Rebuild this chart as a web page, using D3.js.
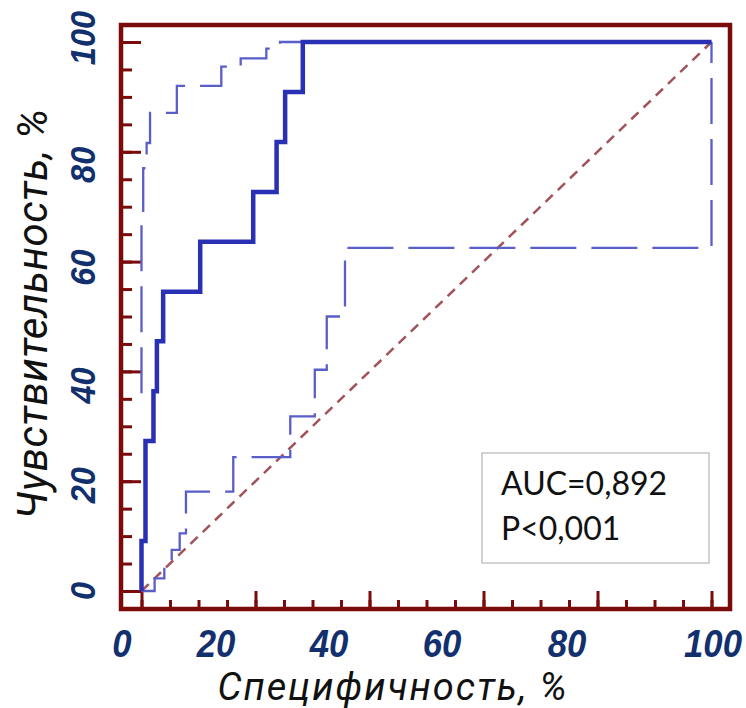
<!DOCTYPE html>
<html>
<head>
<meta charset="utf-8">
<script src="https://cdn.jsdelivr.net/npm/d3@7"></script>
<style>
  html, body { margin: 0; padding: 0; background: #ffffff; }
  svg { display: block; }
</style>
</head>
<body>
<svg id="chart" width="746" height="708"></svg>
<script>
// ---------------- data ----------------
// ROC curve (step corners, x = specificity axis value, y = sensitivity)
const rocX   = [0, 0.7, 2.1, 2.7, 3.8, 10.3, 19.6, 23.7, 25.2, 28.3, 100];
const rocY   = [0, 9.1, 27.3, 36.4, 45.5, 54.5, 63.6, 72.7, 81.8, 90.9, 100];
// upper confidence bound (dashed)
const upperX = [0, 0.3, 0.9, 1.5, 6.2, 14.0, 17.4, 21.9, 24.3, 100];
const upperY = [36, 67.3, 77.0, 81.6, 87.1, 92.0, 95.5, 97.0, 98.8, 100];
// lower confidence bound (dashed)
const lowerX = [0, 2.3, 4.0, 5.3, 6.7, 7.8, 16.1, 26.1, 30.4, 32.5, 35.7, 100, 100];
const lowerY = [0, 0, 2.3, 5.0, 7.5, 10.5, 18.1, 24.4, 31.8, 40.3, 50.0, 62.5, 100];
// reference diagonal
const diagX = [0, 100];
const diagY = [0, 100];
// ticks
const majorTicks = [0, 20, 40, 60, 80, 100];
const minorTicks = [0, 5, 10, 15, 20, 25, 30, 35, 40, 45, 50, 55, 60, 65, 70, 75, 80, 85, 90, 95, 100];
const tickLabels = ["0", "20", "40", "60", "80", "100"];
const xTitle = "Специфичность, %";
const yTitle = "Чувствительность,  %";
const statLines = ["AUC=0,892", "P<0,001"];

// ---------------- layout ----------------
const frame = {left: 121, top: 25, right: 730, bottom: 609};
const xLabelShift = [-19.5, -39.5, -40.5, -41.5, -30.5, 1.5];
const yLabelShift = [0, 4, 14, 6, 13, -4];

const svg = d3.select("#chart");
const x = d3.scaleLinear().domain([0, 100]).range([141.5, 711.5]);
const y = d3.scaleLinear().domain([0, 100]).range([591, 42]);

const frameColor = "#7b0b0b";
const labelColor = "#12306e";

// frame
svg.append("rect")
  .attr("x", frame.left).attr("y", frame.top)
  .attr("width", frame.right - frame.left).attr("height", frame.bottom - frame.top)
  .attr("fill", "none").attr("stroke", frameColor).attr("stroke-width", 4.5);

// ticks via axes
function styleAxis(g) {
  g.select(".domain").remove();
  g.selectAll(".tick line").attr("stroke", frameColor).attr("stroke-width", 3);
  g.selectAll(".tick text").remove();
}
svg.append("g").attr("transform", `translate(${frame.left},0)`)
  .call(d3.axisRight(y).tickValues(minorTicks).tickSize(11).tickFormat(""))
  .call(styleAxis);
svg.append("g").attr("transform", `translate(${frame.left},0)`)
  .call(d3.axisRight(y).tickValues(majorTicks).tickSize(20).tickFormat(""))
  .call(styleAxis);
svg.append("g").attr("transform", `translate(0,${frame.bottom})`)
  .call(d3.axisTop(x).tickValues(minorTicks).tickSize(9).tickFormat(""))
  .call(styleAxis);
svg.append("g").attr("transform", `translate(0,${frame.bottom})`)
  .call(d3.axisTop(x).tickValues(majorTicks).tickSize(18).tickFormat(""))
  .call(styleAxis);

// tick labels
const tickFont = "'Liberation Sans', Arial, sans-serif";
svg.append("g").selectAll("text").data(majorTicks).join("text")
  .attr("transform", (d, i) => `translate(${x(d) + xLabelShift[i]},657) scale(0.89,1)`)
  .attr("text-anchor", "middle")
  .attr("font-family", tickFont).attr("font-size", 39)
  .attr("font-weight", "bold").attr("font-style", "italic")
  .attr("fill", labelColor)
  .text((d, i) => tickLabels[i]);

svg.append("g").selectAll("text").data(majorTicks).join("text")
  .attr("transform", (d, i) => `translate(95,${y(d) + yLabelShift[i]}) rotate(-90) scale(0.93,1)`)
  .attr("text-anchor", "middle")
  .attr("font-family", tickFont).attr("font-size", 35)
  .attr("font-weight", "bold").attr("font-style", "italic")
  .attr("fill", labelColor)
  .text((d, i) => tickLabels[i]);

// axis titles
const titleFont = "Roboto, 'Noto Sans', Arial, sans-serif";
svg.append("text")
  .attr("x", 393).attr("y", 700)
  .attr("text-anchor", "middle")
  .attr("font-family", titleFont).attr("font-size", 38)
  .attr("letter-spacing", 2)
  .attr("font-style", "italic").attr("fill", "#111")
  .text(xTitle);
svg.append("text")
  .attr("transform", "translate(47,314) rotate(-90)")
  .attr("text-anchor", "middle")
  .attr("font-family", titleFont).attr("font-size", 42)
  .attr("letter-spacing", 0.5)
  .attr("font-style", "italic").attr("fill", "#111")
  .text(yTitle);

// curves
const stepLine = d3.line().x(d => x(d[0])).y(d => y(d[1])).curve(d3.curveStepBefore);
const straight = d3.line().x(d => x(d[0])).y(d => y(d[1]));

svg.append("path")
  .datum(diagX.map((v, i) => [v, diagY[i]]))
  .attr("d", straight)
  .attr("fill", "none").attr("stroke", "#a2525a").attr("stroke-width", 2.5)
  .attr("stroke-dasharray", "10,7");

svg.append("path")
  .datum(lowerX.map((v, i) => [v, lowerY[i]]))
  .attr("d", stepLine)
  .attr("fill", "none").attr("stroke", "#5a5ec8").attr("stroke-width", 2.3)
  .attr("stroke-dasharray", "46,15");

svg.append("path")
  .datum(upperX.map((v, i) => [v, upperY[i]]))
  .attr("d", stepLine)
  .attr("fill", "none").attr("stroke", "#5a5ec8").attr("stroke-width", 2.3)
  .attr("stroke-dasharray", "46,15");

svg.append("path")
  .datum(rocX.map((v, i) => [v, rocY[i]]))
  .attr("d", stepLine)
  .attr("fill", "none").attr("stroke", "#2a30b4").attr("stroke-width", 4.5)
  .attr("stroke-linejoin", "miter");

// stats box
svg.append("rect")
  .attr("x", 482).attr("y", 453).attr("width", 227).attr("height", 110)
  .attr("fill", "#fff").attr("stroke", "#c4c4c4").attr("stroke-width", 1.5);
svg.append("g").selectAll("text").data(statLines).join("text")
  .attr("x", 501).attr("y", (d, i) => 495 + i * 45)
  .attr("font-family", "Lato, 'Open Sans', sans-serif").attr("font-size", 32)
  .attr("fill", "#111")
  .text(d => d);
</script>
</body>
</html>
